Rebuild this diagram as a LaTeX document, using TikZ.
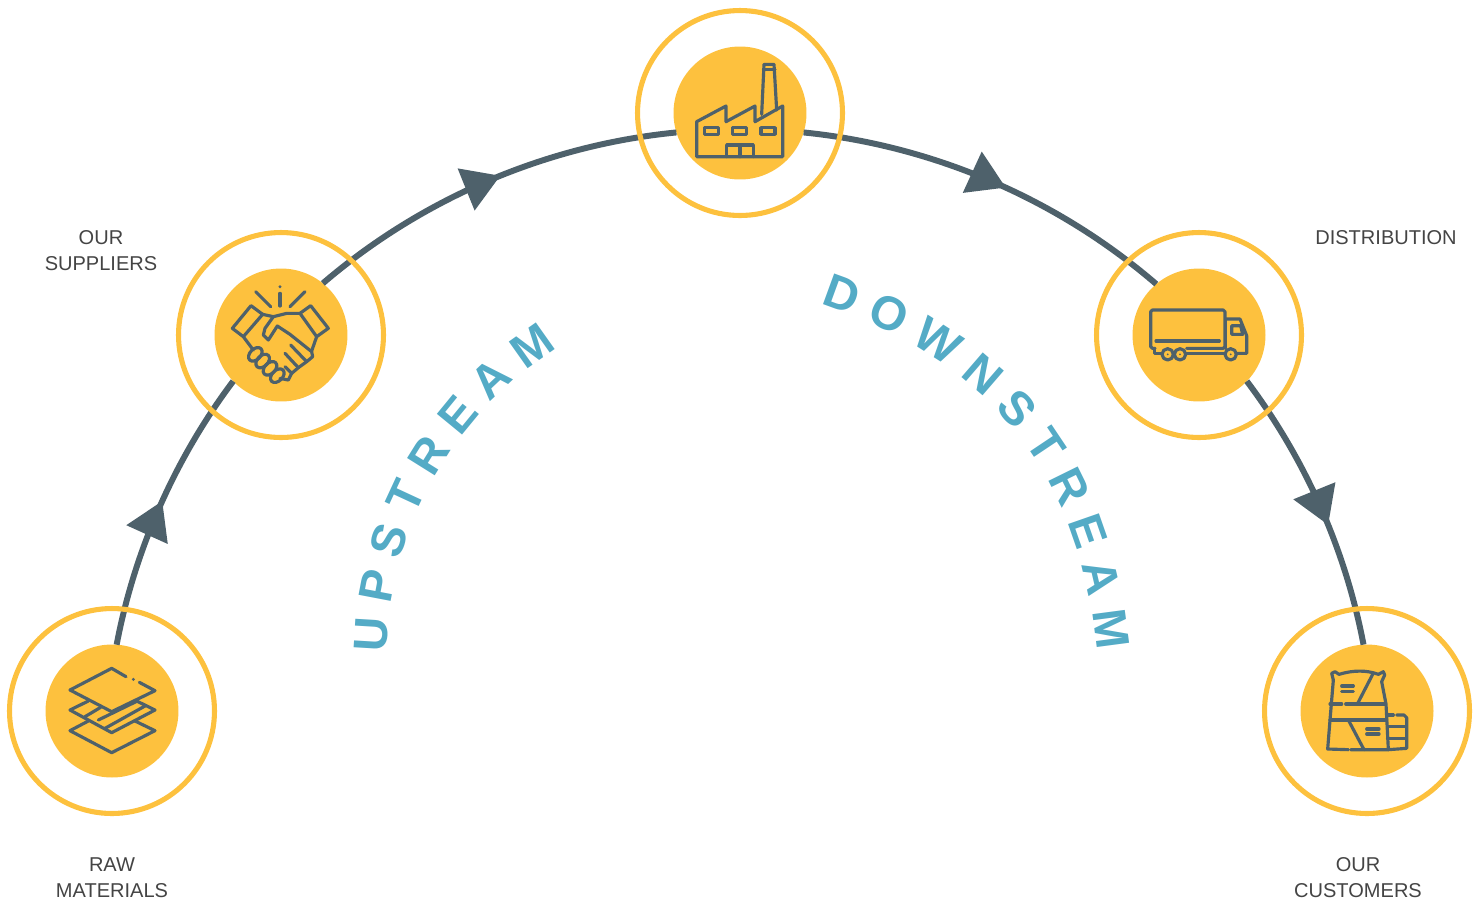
\documentclass[tikz,border=0pt]{standalone}
\usepackage{fontspec}
\setmainfont{Liberation Sans}
\usetikzlibrary{arrows.meta,positioning,decorations.markings,decorations.text}
\definecolor{sun}{HTML}{FDC13E}
\definecolor{slate}{HTML}{4E616B}
\definecolor{teal}{HTML}{54ABC6}
\definecolor{labelgray}{HTML}{444444}
\tikzset{
    disc/.style={
           circle,
           fill=sun,
           minimum size=2.66cm,
           inner sep=0pt,
           outer sep=0pt},
    ring/.style={
           circle,
           draw=sun,
           line width=2.9pt,
           minimum size=4.1cm,
           inner sep=0pt},
    pil/.style={
           draw=slate,
           line width=3.4pt,
           postaction={decorate},
           decoration={markings,
               mark=at position #1 with {\arrow[slate]{Triangle[length=21pt,width=25pt]}}}},
    lbl/.style={
           text=labelgray,
           font=\fontsize{11.4}{14.8}\selectfont,
           align=center,
           inner sep=0pt},
    icon/.style={
           draw=slate,
           line width=1.8pt,
           line cap=round,
           line join=round},
    stream/.style={
           decorate,
           decoration={text along path,
               text align={fit to path},
               text color=teal,
               text={|\fontsize{27}{27}\selectfont\bfseries|#1}}}
}
\begin{document}
\begin{tikzpicture}[x=0.02cm, y=-0.02cm]
        \useasboundingbox (0,0) rectangle (1480,904);

        \node[disc] (raw) at (112,711) {};
        \node[disc] (supp) at (281,335) {};
        \node[disc] (fac) at (740,113) {};
        \node[disc] (truck) at (1199,335) {};
        \node[disc] (cust) at (1367,711) {};

        \draw[pil=0.52] (raw.86) to[bend left=13.1, looseness=0.86] (supp.224);
        \draw[pil=0.534] (supp.51) to[bend left=17.5, looseness=0.87] (fac.197);
        \draw[pil=0.54] (fac.-17) to[bend left=17.5, looseness=0.87] (truck.130);
        \draw[pil=0.57] (truck.-44) to[bend left=13.1, looseness=0.86] (cust.93);

        \foreach \n in {raw,supp,fac,truck,cust}
            \node[ring] (\n ring) at (\n) {};

        % layers
        \begin{scope}[icon, shift={(20,620)}, scale=1/3]
            \draw (318,170) -- (275,145) -- (150,210) -- (275,275) -- (405,212) -- (358,187);
            \fill[slate] (340,178) circle (5);
            \draw (205,243) -- (150,270) -- (275,338) -- (405,270) -- (350,243);
            \draw (195,290) -- (242,262);
            \draw (235,300) -- (352,243);
            \draw (255,325) -- (375,258);
            \draw (205,303) -- (150,332) -- (275,398) -- (405,332) -- (345,303);
        \end{scope}

        % handshake
        \begin{scope}[icon, shift={(190,245)}, scale=1/3]
            \draw (183,182) -- (127,250) -- (160,275) -- (218,208) -- cycle;
            \draw (362,182) -- (415,250) -- (380,275) -- (330,205) -- cycle;
            \draw (218,208) -- (250,215) -- (290,205) -- (330,205);
            \draw (250,215) -- (225,250) -- (220,270) -- (235,285) -- (262,243) -- (300,268) -- (365,320) -- (368,335) -- (350,350) -- (302,300);
            \draw (160,275) -- (190,315);
            \draw (380,275) -- (365,318);
            \draw (350,350) -- (325,368) -- (285,325);
            \draw (325,368) -- (305,385) -- (285,365);
            \draw (305,385) -- (295,405) -- (270,400);
            \foreach \fx/\fy in {196/328, 218/348, 240/370, 262/392}
                \draw (\fx,\fy) circle [x radius=24, y radius=16, rotate=45];
            \draw (197,140) -- (242,185);
            \draw (270,145) -- (270,183);
            \fill[slate] (270,125) circle (5);
            \draw (345,140) -- (300,185);
        \end{scope}

        % factory
        \begin{scope}[icon, shift={(650,25)}, scale=1/3]
            \draw (140,290) -- (228,243) -- (228,290) -- (315,243) -- (315,290) -- (398,243) -- (398,395) -- (140,395) -- cycle;
            \draw (335,268) -- (342,118) -- (372,118) -- (380,255);
            \draw (340,133) -- (375,133);
            \foreach \wx in {163,248,333}
                \draw (\wx,308) rectangle ++(42,20);
            \draw (230,395) -- (230,360) -- (310,360) -- (310,395);
            \draw (270,360) -- (270,395);
        \end{scope}

        % truck
        \begin{scope}[icon, shift={(1110,245)}, scale=1/3]
            \draw[rounded corners=1pt] (135,310) -- (122,310) -- (122,195) -- (345,195) -- (345,310) -- (230,310);
            \draw (138,288) -- (328,288);
            \draw (133,310) -- (133,325) -- (155,325);
            \draw (230,325) -- (345,325);
            \draw (347,222) -- (390,222) -- (410,272) -- (410,325) -- (380,325);
            \draw (347,222) -- (347,310);
            \draw (365,242) -- (392,242) -- (398,268) -- (365,268) -- cycle;
            \foreach \wx in {173,210,362} {
                \draw[fill=sun] (\wx,328) circle (17);
                \fill[slate] (\wx,328) circle (3);
            }
        \end{scope}

        % bags
        \begin{scope}[icon, shift={(1280,625)}, scale=1/3]
            \draw (160,165) -- (155,145) -- (165,140) -- (177,148) .. controls (220,135) and (260,135) .. (295,148) -- (310,140) -- (314,150) -- (305,170) -- (318,237) -- (325,374) -- (212,374);
            \draw (205,374) -- (143,372) -- (150,285) -- (160,165);
            \draw (150,237) -- (185,237);
            \draw (197,237) -- (315,237);
            \draw (150,285) -- (320,285);
            \draw (278,148) -- (232,237);
            \draw (205,285) -- (252,374);
            \draw (185,183) -- (220,183);
            \draw (185,200) -- (220,200);
            \draw (260,312) -- (297,312);
            \draw (260,327) -- (297,327);
            \draw (322,270) -- (340,270);
            \draw (350,270) -- (372,270) -- (380,278) -- (380,370) -- (325,374);
            \draw (322,305) -- (378,305);
            \draw (322,340) -- (378,340);
        \end{scope}

        \coordinate (upA) at (387,653);
        \coordinate (upB) at (558,348);
        \coordinate (downA) at (820,304);
        \coordinate (downB) at (1097,651);
        \path[stream={UPSTREAM}] (upA) to[bend left=28.5, looseness=0.91] (upB);
        \path[stream={DOWNSTREAM}] (downA) to[bend left=33, looseness=1.03] (downB);

        \node[lbl] (supptxt) at (101,251) {OUR\\SUPPLIERS};
        \node[lbl] (trucktxt) at (1386,238) {DISTRIBUTION};
        \node[lbl, below=1.6cm of raw] (rawtxt) {RAW\\MATERIALS};
        \node[lbl, below=1.6cm of cust, shift={(-9,0)}] (custtxt) {OUR\\CUSTOMERS};

    \end{tikzpicture}
\end{document}
